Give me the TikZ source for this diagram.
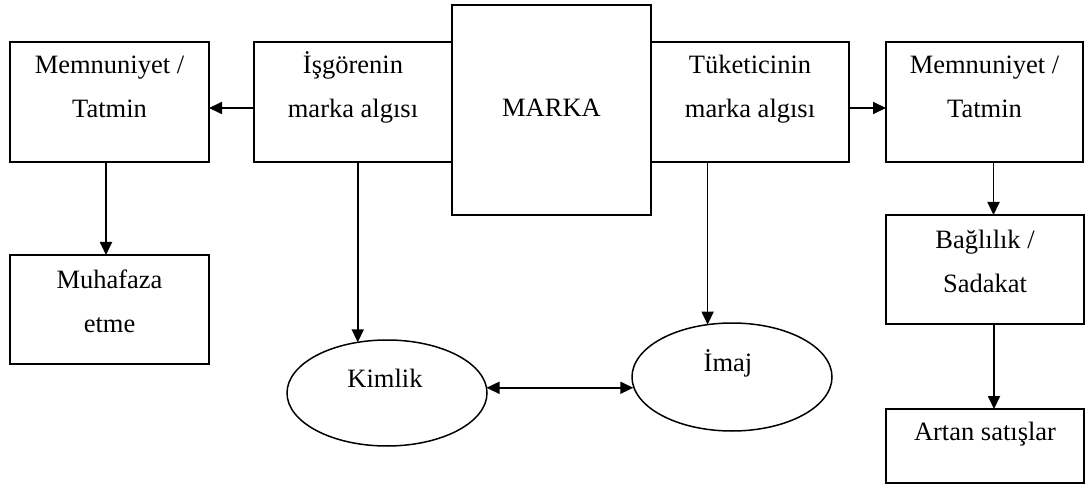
\documentclass[tikz,border=0pt]{standalone}
\usepackage{fontspec}
\setmainfont{Liberation Serif}
\usetikzlibrary{arrows.meta,shapes.geometric}
% two centred lines whose baseline is the first line's
\newcommand{\twolines}[2]{\begin{tabular}[t]{@{}c@{}}#1\\#2\end{tabular}}

\begin{document}
\begin{tikzpicture}[x=1pt,y=-1pt,
  box/.style={draw, line width=1.8pt, inner sep=0pt, outer sep=0pt},
  oval/.style={draw, ellipse, line width=1.5pt, inner sep=0pt, outer sep=0pt,
               minimum width=200pt},
  lbl/.style={anchor=base, inner sep=0pt, font=\fontsize{26.5}{44}\selectfont},
  arr/.style={line width=1.8pt, -{Triangle[length=13pt,width=12pt]}},
  darr/.style={line width=1.8pt, {Triangle[length=13pt,width=12pt]}-{Triangle[length=13pt,width=12pt]}}]

\useasboundingbox (0,0) rectangle (1086,486);

% boxes
\node[box, minimum width=199pt, minimum height=120pt] (memL)  at (109.5,102) {};
\node[box, minimum width=199pt, minimum height=109pt] (muh)   at (109.5,309.5) {};
\node[box, minimum width=198pt, minimum height=120pt] (isg)   at (353,102) {};
\node[box, minimum width=198pt, minimum height=120pt] (tuk)   at (750,102) {};
\node[box, minimum width=199pt, minimum height=210pt] (marka) at (551.5,110) {};
\node[box, minimum width=197pt, minimum height=120pt] (memR)  at (984.5,102) {};
\node[box, minimum width=198pt, minimum height=109pt] (bag)   at (985,269.5) {};
\node[box, minimum width=198pt, minimum height=74pt]  (artan) at (985,446) {};

% ellipses
\node[oval, minimum height=106pt] (kim) at (387,393) {};
\node[oval, minimum height=108pt] (ima) at (732,377) {};

% texts
\node[lbl] (memLt)  at ([yshift=-32pt]memL.north) {\twolines{Memnuniyet /}{Tatmin}};
\node[lbl] (muht)   at ([yshift=-33pt]muh.north)  {\twolines{Muhafaza}{etme}};
\node[lbl] (isgt)   at ([yshift=-32pt]isg.north)  {\twolines{İşgörenin}{marka algısı}};
\node[lbl] (markat) at ([yshift=-7pt]marka.center) {MARKA};
\node[lbl] (tukt)   at ([yshift=-32pt]tuk.north)  {\twolines{Tüketicinin}{marka algısı}};
\node[lbl] (memRt)  at ([yshift=-32pt]memR.north) {\twolines{Memnuniyet /}{Tatmin}};
\node[lbl] (bagt)   at ([yshift=-33pt]bag.north)  {\twolines{Bağlılık /}{Sadakat}};
\node[lbl] (artant) at ([yshift=-31pt]artan.north) {Artan satışlar};
\node[lbl] (kimt)   at ([xshift=-2pt,yshift=6pt]kim.center) {Kimlik};
\node[lbl] (imat)   at ([xshift=-4pt,yshift=6pt]ima.center) {İmaj};

% connectors
\draw[arr] ([yshift=-6pt]isg.west) -- ([yshift=-6pt]memL.east);
\draw[arr] ([xshift=-3.5pt]memL.south) -- ([xshift=-3.5pt]muh.north);
\draw[arr] (kim.120.5 |- isg.south) -- (kim.120.5);
\draw[arr] (ima.115.5 |- tuk.south) -- (ima.115.5);
\draw[arr] ([yshift=-6pt]tuk.east) -- ([yshift=-6pt]memR.west);
\draw[arr] ([xshift=9pt]memR.south) -- ([xshift=9pt]memR.south |- bag.north);
\draw[arr] ([xshift=9pt]bag.south) -- ([xshift=9pt]bag.south |- artan.north);
\draw[darr] (kim.3.45) -- (kim.3.45 -| ima.185.8);
\end{tikzpicture}
\end{document}
